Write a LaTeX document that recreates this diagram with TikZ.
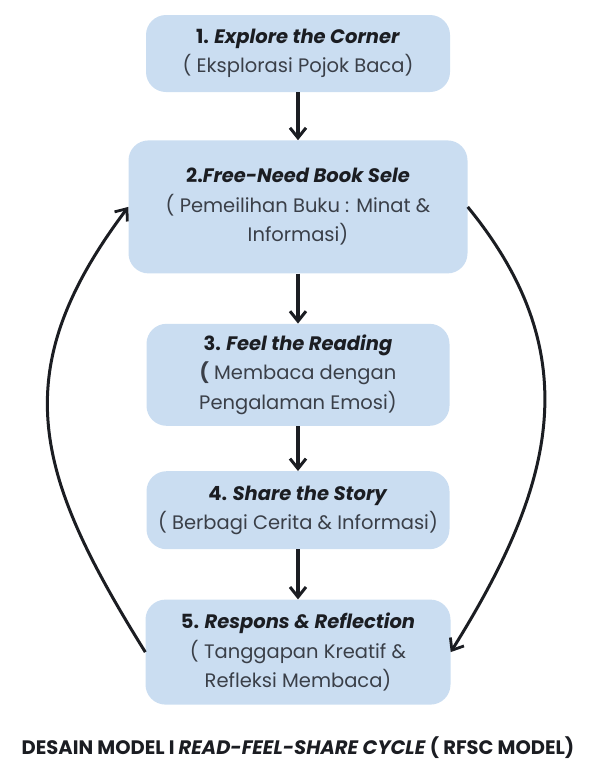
\documentclass[tikz,border=0pt]{standalone}
\usepackage{fontspec}
\setmainfont{Poppins}
\usepackage{tikz}
\usetikzlibrary{arrows.meta, positioning}
\usepackage{xcolor}
\definecolor{ink}{HTML}{1B1D22}
\definecolor{body}{HTML}{3A3F48}
\definecolor{boxfill}{HTML}{CADDF1}

\begin{document}
\begin{tikzpicture}[
  x=1pt, y=-1pt,
  stage/.style={fill=boxfill, rounded corners=20pt, align=center,
                font=\fontsize{19.5}{29.5}\selectfont, text=body, inner sep=0pt},
  arr/.style={-{Straight Barb[length=10pt, width=16pt, line width=3pt]}, line width=3.4pt, draw=ink},
  loop/.style={-{Straight Barb[length=10pt, width=16pt, line width=2.8pt]}, line width=3pt, draw=ink}
]
\useasboundingbox (0,0) rectangle (597,764);

\node[stage, minimum width=304pt, minimum height=77pt] (explore) at (298,53.5)
  {\textcolor{ink}{\textbf{1. \textit{Explore the Corner}}}\\ ( Eksplorasi Pojok Baca)};
\node[stage, below=48pt of explore, minimum width=339pt, minimum height=133pt] (select)
  {\textcolor{ink}{\textbf{2.\textit{Free-Need Book Sele}}}\\ ( Pemeilihan Buku : Minat \&\\ Informasi)};
\node[stage, below=50pt of select, minimum width=303pt, minimum height=102pt] (feel)
  {\textcolor{ink}{\textbf{3. \textit{Feel the Reading}}}\\ \textbf{(} Membaca dengan\\ Pengalaman Emosi)};
\node[stage, below=45pt of feel, minimum width=303pt, minimum height=78pt] (share)
  {\textcolor{ink}{\textbf{4. \textit{Share the Story}}}\\ ( Berbagi Cerita \& Informasi)};
\node[stage, below=50pt of share, minimum width=305pt, minimum height=105pt] (reflect)
  {\textcolor{ink}{\textbf{5. \textit{Respons \& Reflection}}}\\ ( Tanggapan Kreatif \&\\ Refleksi Membaca)};

\node[font=\fontsize{19.5}{22}\selectfont\bfseries, text=ink] (caption) at (298,748)
  {DESAIN MODEL I \textit{READ-FEEL-SHARE CYCLE} ( RFSC MODEL)};

% main flow
\draw[arr] (explore) -- (select);
\draw[arr] (select) -- (feel);
\draw[arr] (feel) -- (share);
\draw[arr] (share) -- (reflect);

% cycle back and forward
\draw[loop] (reflect.west) .. controls +(-110,-177) and +(-125,166) .. (select.west);
\draw[loop] (select.east) .. controls +(122,149) and +(103,-165) .. (reflect.east);
\end{tikzpicture}
\end{document}
